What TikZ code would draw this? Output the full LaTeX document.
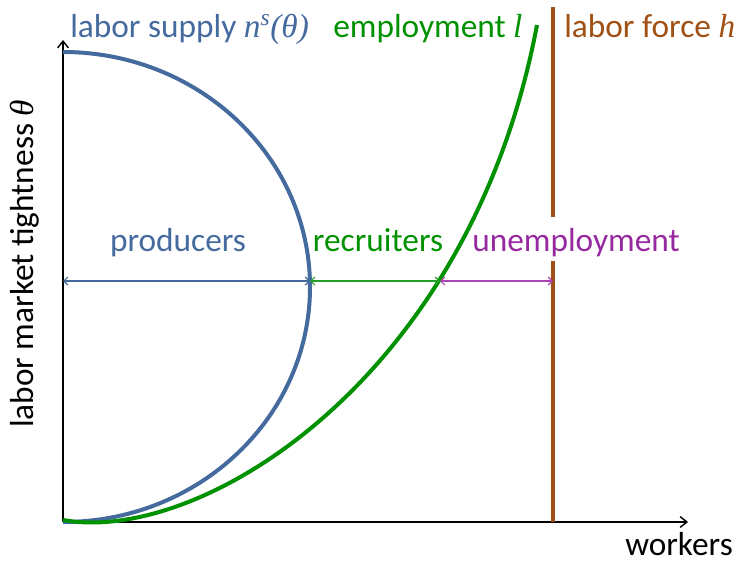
\documentclass[tikz,border=0pt]{standalone}
\usepackage{fontspec}
\setmainfont{Carlito}
\newfontfamily\serifit{Liberation Serif}
\newcommand{\varit}[1]{{\serifit\itshape #1}}
\usepackage{tikz}
\usetikzlibrary{arrows.meta}
\definecolor{supplyblue}{RGB}{68,106,158}
\definecolor{employgreen}{RGB}{0,145,0}
\definecolor{spangreen}{RGB}{40,160,40}
\definecolor{unempurple}{RGB}{150,40,160}
\definecolor{spanpurple}{RGB}{170,70,180}
\definecolor{forcebrown}{RGB}{160,80,20}
\tikzstyle{curve} = [line width=3pt]
\tikzstyle{axis} = [line width=1.1pt,-{Straight Barb[length=5pt,width=8pt]}]
\tikzstyle{span} = [line width=0.9pt,{Straight Barb[length=3pt,width=6pt]}-{Straight Barb[length=3pt,width=6pt]}]
\tikzstyle{lbl} = [font=\fontsize{25}{30}\selectfont, inner sep=0pt]

\begin{document}
\begin{tikzpicture}[x=0.75pt,y=0.75pt]
\useasboundingbox (0,0) rectangle (740,562);
\coordinate (O) at (63,40);
\coordinate (xend) at (688,40);
\coordinate (ytop) at (63,522);
\coordinate (stop) at (63,510);
\coordinate (ymid) at (63,281);
\coordinate (smid) at (310,281);
\coordinate (lmid) at (440,281);
\coordinate (hmid) at (553,281);
\coordinate (hbot) at (553,40);
\coordinate (hgap1) at (553,301);
\coordinate (hgap2) at (553,345);
\coordinate (htop) at (553,555);
\coordinate (lstart) at (63,42);
\coordinate (lend) at (537,537);
% axes
\draw[axis] (O) -- (xend);
\draw[axis] (O) -- (ytop);
% labor force
\draw[curve, forcebrown] (hbot) -- (hgap1);
\draw[curve, forcebrown] (hgap2) -- (htop);
% labor supply and employment
\draw[curve, supplyblue] (stop) arc[start angle=90, end angle=-90, x radius=247, y radius=235];
\draw[curve, employgreen] (lstart) .. controls (200,17) and (470,182) .. (lend);
% spans
\draw[span, supplyblue] (ymid) -- (smid);
\draw[span, spangreen] (smid) -- (lmid);
\draw[span, spanpurple] (lmid) -- (hmid);
% labels
\node[lbl, anchor=base west, text=supplyblue] (supply) at (70,524) {labor supply \varit{n\textsuperscript{s}(θ)}};
\node[lbl, anchor=base west, text=employgreen] (employ) at (333,524) {employment \varit{l}};
\node[lbl, anchor=base west, text=forcebrown] (force) at (564,524) {labor force \varit{h}};
\node[lbl, anchor=base, text=supplyblue] (prod) at (178,311) {producers};
\node[lbl, anchor=base, text=employgreen] (recr) at (378,311) {recruiters};
\node[lbl, anchor=base, text=unempurple] (unemp) at (576,311) {unemployment};
\node[lbl, anchor=base east] (workers) at (733,7) {workers};
\node[lbl, anchor=base, rotate=90] (tight) at (33,298) {labor market tightness \varit{θ}};
\end{tikzpicture}
\end{document}
